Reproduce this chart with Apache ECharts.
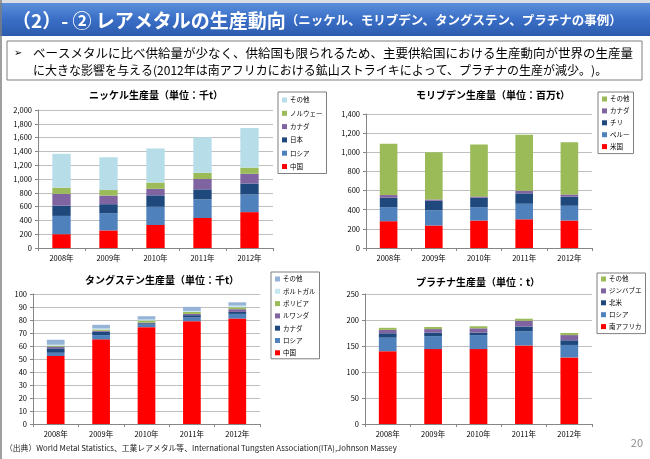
<!DOCTYPE html>
<html lang="ja">
  <head>
    <meta charset="UTF-8" />
    <title>レアメタルの生産動向</title>
    <script src="https://cdn.jsdelivr.net/npm/echarts@6.0.0/dist/echarts.min.js"></script>
    <style>
      html, body { margin: 0; padding: 0; background: #fff; }
      #main { width: 650px; height: 459px; }
    </style>
  </head>
  <body>
    <div id="main"></div>
    <script>
      // 年
      var years = ['2008年', '2009年', '2010年', '2011年', '2012年']

      // ニッケル生産量（千t）
      var niNames = ['中国', 'ロシア', '日本', 'カナダ', 'ノルウェー', 'その他']
      var niChina = [200, 255, 333, 435, 520]
      var niRussia = [265, 250, 265, 270, 255]
      var niJapan = [150, 130, 165, 145, 160]
      var niCanada = [170, 125, 95, 150, 140]
      var niNorway = [90, 80, 90, 90, 90]
      var niOther = [490, 475, 495, 515, 575]

      // モリブデン生産量（百万t）
      var moNames = ['米国', 'ペルー', 'チリ', 'カナダ', 'その他']
      var moUS = [280, 235, 287, 300, 287]
      var moPeru = [147, 160, 140, 162, 154]
      var moChile = [98, 98, 98, 109, 95]
      var moCanada = [28, 14, 14, 28, 24]
      var moOther = [536, 493, 543, 584, 546]

      // タングステン生産量（千t）
      var wNames = ['中国', 'ロシア', 'カナダ', 'ルワンダ', 'ボリビア', 'ポルトガル', 'その他']
      var wChina = [52.3, 65.1, 74.5, 79.1, 81.1]
      var wRussia = [2.5, 3.3, 2.0, 2.8, 3.6]
      var wCanada = [3.4, 2.5, 1.0, 1.8, 1.5]
      var wRwanda = [1.3, 0.8, 0.5, 1.0, 2.1]
      var wBolivia = [0.8, 1.0, 1.6, 1.5, 1.5]
      var wPortugal = [0.7, 0.8, 0.8, 0.8, 1.3]
      var wOther = [3.8, 2.8, 2.5, 3.1, 2.5]

      // プラチナ生産量（t）
      var ptNames = ['南アフリカ', 'ロシア', '北米', 'ジンバブエ', 'その他']
      var ptSA = [140, 144, 144, 151, 128]
      var ptRussia = [26, 25, 27, 27, 24]
      var ptNA = [8.5, 6.5, 4.5, 9.5, 9]
      var ptZim = [6.5, 7, 8.5, 11, 10]
      var ptOther = [4, 4, 4, 4, 4]

      var RED = '#FF0000', BLUE = '#4F81BD', NAVY = '#1F497D', PURPLE = '#8064A2',
          GREEN = '#9BBB59', AQUA = '#B7DEE8', STEEL = '#95B3D7'

      var niColors = [RED, BLUE, NAVY, PURPLE, GREEN, AQUA]
      var moColors = [RED, BLUE, NAVY, PURPLE, GREEN]
      var wColors = [RED, BLUE, NAVY, PURPLE, GREEN, '#C6E6F0', STEEL]
      var ptColors = [RED, BLUE, NAVY, PURPLE, GREEN]

      var FONT = '"Noto Sans CJK JP", "DejaVu Sans", sans-serif'

      function comma(v) {
        return String(v).replace(/\B(?=(\d{3})+(?!\d))/g, ',')
      }

      function makeSeries(names, values, colors, stack, idx) {
        return names.map(function (n, i) {
          return {
            name: n,
            type: 'bar',
            stack: stack,
            xAxisIndex: idx,
            yAxisIndex: idx,
            barWidth: '39%',
            data: values[i],
            itemStyle: { color: colors[i] }
          }
        })
      }

      // 凡例は上から「その他」の順（系列の逆順）
      function makeLegend(names, colors, left, top, gap, pad) {
        var data = names.map(function (n, i) {
          return { name: n, itemStyle: { color: colors[i] } }
        }).reverse()
        return {
          data: data,
          orient: 'vertical',
          left: left,
          top: top,
          itemWidth: 5,
          itemHeight: 5,
          itemGap: gap,
          padding: pad,
          icon: 'rect',
          borderColor: '#7F7F7F',
          borderWidth: 1,
          backgroundColor: '#fff',
          selectedMode: false,
          textStyle: { fontSize: 6.5, lineHeight: 8, color: '#000', fontFamily: FONT, padding: [0, 0, 0, -2] }
        }
      }

      function xAx(idx) {
        return {
          type: 'category',
          gridIndex: idx,
          data: years,
          axisLine: { lineStyle: { color: '#868686', width: 1 } },
          axisTick: { show: true, length: 3, lineStyle: { color: '#868686' } },
          axisLabel: { fontSize: 7.5, color: '#000', margin: 6, fontFamily: FONT }
        }
      }

      function yAx(idx, max, step, fmt) {
        return {
          type: 'value',
          gridIndex: idx,
          min: 0,
          max: max,
          interval: step,
          axisLine: { show: true, lineStyle: { color: '#868686', width: 1 } },
          axisTick: { show: true, length: 3, lineStyle: { color: '#868686' } },
          splitLine: { lineStyle: { color: '#BFBFBF', width: 1 } },
          axisLabel: { fontSize: 7.5, color: '#000', margin: 6, fontFamily: FONT, formatter: fmt }
        }
      }

      function chartTitle(text, x, y) {
        return {
          type: 'text',
          x: x,
          y: y,
          style: { text: text, fontSize: 10, fontWeight: 'bold', fill: '#000', fontFamily: FONT, textAlign: 'center', textVerticalAlign: 'middle' }
        }
      }

      var series = []
        .concat(makeSeries(niNames, [niChina, niRussia, niJapan, niCanada, niNorway, niOther], niColors, 'ni', 0))
        .concat(makeSeries(moNames, [moUS, moPeru, moChile, moCanada, moOther], moColors, 'mo', 1))
        .concat(makeSeries(wNames, [wChina, wRussia, wCanada, wRwanda, wBolivia, wPortugal, wOther], wColors, 'w', 2))
        .concat(makeSeries(ptNames, [ptSA, ptRussia, ptNA, ptZim, ptOther], ptColors, 'pt', 3))

      var option = {
        animation: false,
        textStyle: { fontFamily: FONT },
        grid: [
          { left: 38, top: 110, width: 235, height: 138 },
          { left: 366, top: 114, width: 226, height: 134 },
          { left: 33, top: 294, width: 227, height: 130 },
          { left: 365, top: 294, width: 227, height: 130 }
        ],
        xAxis: [xAx(0), xAx(1), xAx(2), xAx(3)],
        yAxis: [
          yAx(0, 2000, 200, comma),
          yAx(1, 1400, 200, comma),
          yAx(2, 100, 10),
          yAx(3, 250, 50)
        ],
        legend: [
          makeLegend(niNames, niColors, 278, 92, 5.3, [4, 4, 3, 4]),
          makeLegend(moNames, moColors, 598, 92, 3.9, [3, 4, 3, 4]),
          makeLegend(wNames, wColors, 271, 272, 4.3, [3, 4, 2, 4]),
          makeLegend(ptNames, ptColors, 597, 273, 3.9, [2, 4, 3, 4])
        ],
        graphic: [
          { type: 'rect', shape: { x: 0, y: 0, width: 650, height: 3 }, style: { fill: '#DADDE3' } },
          {
            type: 'rect',
            shape: { x: 0, y: 3, width: 650, height: 33 },
            style: {
              fill: {
                type: 'linear', x: 0, y: 0, x2: 0, y2: 1,
                colorStops: [{ offset: 0, color: '#5B8FDB' }, { offset: 0.5, color: '#3A6EC6' }, { offset: 1, color: '#2C5CAE' }]
              }
            }
          },
          { type: 'line', shape: { x1: 1, y1: 0, x2: 1, y2: 459 }, style: { stroke: '#7F7F7F', lineWidth: 1.5 } },
          {
            type: 'text',
            x: 12,
            y: 20.5,
            style: {
              text: '{a|（2）- ② レアメタルの生産動向}{b|（ニッケル、モリブデン、タングステン、プラチナの事例）}',
              textVerticalAlign: 'middle',
              rich: {
                a: { fontSize: 19, fontWeight: 'bold', fill: '#fff', fontFamily: FONT },
                b: { fontSize: 12.5, fontWeight: 'bold', fill: '#fff', fontFamily: FONT }
              }
            }
          },
          {
            type: 'rect',
            shape: { x: 7, y: 41, width: 635, height: 39 },
            style: { fill: '#fff', stroke: '#7F7F7F', lineWidth: 1 }
          },
          { type: 'text', x: 14, y: 53, style: { text: '➢', fontSize: 10, fill: '#000', textVerticalAlign: 'middle', fontFamily: '"DejaVu Sans", sans-serif' } },
          {
            type: 'text', x: 33, y: 53,
            style: { text: 'ベースメタルに比べ供給量が少なく、供給国も限られるため、主要供給国における生産動向が世界の生産量', fontSize: 12.5, fill: '#000', textVerticalAlign: 'middle', fontFamily: FONT }
          },
          {
            type: 'text', x: 33, y: 70,
            style: { text: 'に大きな影響を与える(2012年は南アフリカにおける鉱山ストライキによって、プラチナの生産が減少。)。', fontSize: 12, fill: '#000', textVerticalAlign: 'middle', fontFamily: FONT }
          },
          chartTitle('ニッケル生産量（単位：千t）', 156, 95),
          chartTitle('モリブデン生産量（単位：百万t）', 493, 95),
          chartTitle('タングステン生産量（単位：千t）', 162, 280),
          chartTitle('プラチナ生産量（単位：t）', 478, 282),
          {
            type: 'text', x: 5, y: 448,
            style: { text: '（出典）World Metal Statistics、工業レアメタル等、International Tungsten Association(ITA),Johnson Massey', fontSize: 7.8, fill: '#222', textVerticalAlign: 'middle', fontFamily: FONT }
          },
          { type: 'text', x: 643, y: 443, style: { text: '20', fontSize: 11, fill: '#8C8C8C', textAlign: 'right', textVerticalAlign: 'middle', fontFamily: FONT } }
        ],
        series: series
      }

      var chart = echarts.init(document.getElementById('main'), null, { renderer: 'canvas' })
      chart.setOption(option)
    </script>
  </body>
</html>
